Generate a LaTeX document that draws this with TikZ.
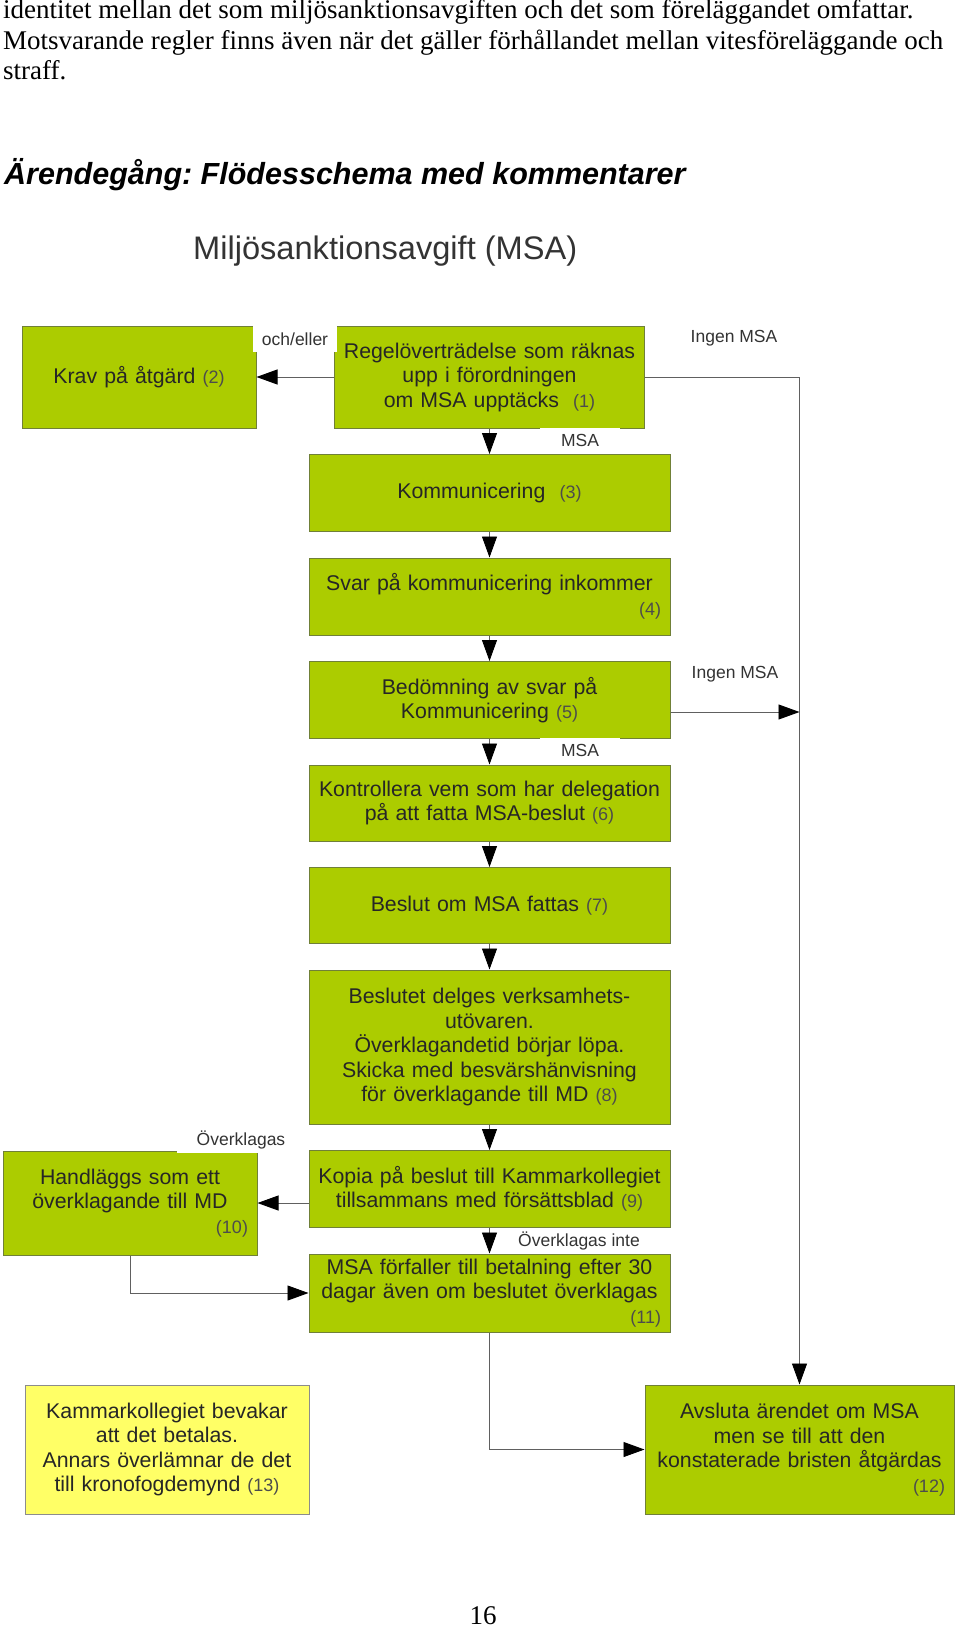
\documentclass[tikz,border=0pt]{standalone}
\usepackage{fontspec}
\setmainfont{Liberation Serif}
\setsansfont{Liberation Sans}
\usepackage{xcolor}
\usepackage{tikz}
\usetikzlibrary{arrows.meta}
\usetikzlibrary{positioning}
\frenchspacing

\definecolor{msagreen}{RGB}{172,204,0}
\definecolor{msayellow}{RGB}{255,255,102}
\definecolor{boxline}{RGB}{112,128,56}
\definecolor{linegray}{RGB}{96,96,96}
\newcommand{\stepno}[1]{{\fontsize{18}{20}\selectfont\color{black!70}(#1)}}
\newcommand{\stepnoright}[1]{\hfill\stepno{#1}\hspace*{7pt}}

\begin{document}
\begin{tikzpicture}[x=1pt, y=-1pt, node distance=25.5pt and 20pt]
\tikzstyle{stepbox} = [rectangle, draw=boxline, line width=1pt, fill=msagreen, text=black!85, font=\sffamily\fontsize{21.3}{24.5}\selectfont, align=center, inner xsep=2pt, inner ysep=0pt]
\tikzstyle{notebox} = [stepbox, fill=msayellow, draw=black!45]
\tikzstyle{lbl} = [fill=white, text=black!80, font=\sffamily\fontsize{17.5}{20}\selectfont, inner sep=0pt, minimum height=26pt]
\tikzstyle{arrow} = [draw=linegray, line width=0.9pt, -{Triangle[width=15pt,length=21pt,color=black]}]
\tikzstyle{bodytext} = [anchor=base west, inner sep=0pt, font=\fontsize{27}{30}\selectfont]

\useasboundingbox (0,0) rectangle (960,1629);

% Page text
\node (intro1) [bodytext] at (3,19) {identitet mellan det som miljösanktionsavgiften och det som föreläggandet omfattar.};
\node (intro2) [bodytext] at (3,49.5) {Motsvarande regler finns även när det gäller förhållandet mellan vitesföreläggande och};
\node (intro3) [bodytext] at (3,80) {straff.};
\node (heading) [anchor=base west, inner sep=0pt, font=\sffamily\bfseries\itshape\fontsize{30.5}{36}\selectfont] at (4,185) {Ärendegång: Flödesschema med kommentarer};
\node (title) [anchor=base west, inner sep=0pt, text=black!80, font=\sffamily\fontsize{32.6}{38}\selectfont] at (193,259) {Miljösanktionsavgift (MSA)};
\node (pageno) [bodytext, anchor=base] at (483,1624) {16};

% Nodes
\node (b1) [stepbox, text width=306pt, minimum height=102pt] at (489.5,377) {Regelöverträdelse som räknas\\upp i förordningen\\om MSA upptäcks~ \stepno{1}};
\node (b2) [stepbox, text width=230pt, minimum height=102pt] at (139,377) {Krav på åtgärd \stepno{2}};
\node (b3) [stepbox, text width=357pt, minimum height=77pt, below=of b1] {Kommunicering~ \stepno{3}};
\node (b4) [stepbox, text width=357pt, minimum height=77pt, below=of b3] {Svar på kommunicering inkommer\\ \stepnoright{4}};
\node (b5) [stepbox, text width=357pt, minimum height=77pt, below=of b4] {Bedömning av svar på\\Kommunicering \stepno{5}};
\node (b6) [stepbox, text width=357pt, minimum height=76pt, below=of b5] {Kontrollera vem som har delegation\\på att fatta MSA-beslut \stepno{6}};
\node (b7) [stepbox, text width=357pt, minimum height=76pt, below=of b6] {Beslut om MSA fattas \stepno{7}};
\node (b8) [stepbox, text width=357pt, minimum height=154pt, below=of b7] {Beslutet delges verksamhets-\\utövaren.\\Överklagandetid börjar löpa.\\Skicka med besvärshänvisning\\för överklagande till MD \stepno{8}};
\node (b9) [stepbox, text width=357pt, minimum height=77pt, below=of b8] {Kopia på beslut till Kammarkollegiet\\tillsammans med försättsblad \stepno{9}};
\node (b11) [stepbox, text width=357pt, minimum height=78pt, below=of b9] {MSA förfaller till betalning efter 30\\dagar även om beslutet överklagas\\ \stepnoright{11}};
\node (b10) [stepbox, text width=250pt, minimum height=104pt] at (130,1203) {Handläggs som ett\\överklagande till MD\\ \stepnoright{10}};
\node (b12) [stepbox, text width=305pt, minimum height=129pt] at (799.5,1449.5) {Avsluta ärendet om MSA\\men se till att den\\konstaterade bristen åtgärdas\\ \stepnoright{12}};
\node (b13) [notebox, text width=280pt, minimum height=129pt] at (167,1449.5) {Kammarkollegiet bevakar\\att det betalas.\\Annars överlämnar de det\\till kronofogdemynd \stepno{13}};
\coordinate (ingen) at (799.5,712);

% Arrows
\draw [arrow] (b1.west) -- (b2.east);
\draw [arrow] (b1.south) -- (b3.north);
\draw [arrow] (b3.south) -- (b4.north);
\draw [arrow] (b4.south) -- (b5.north);
\draw [arrow] (b5.south) -- (b6.north);
\draw [arrow] (b6.south) -- (b7.north);
\draw [arrow] (b7.south) -- (b8.north);
\draw [arrow] (b8.south) -- (b9.north);
\draw [arrow] (b9.south) -- (b11.north);
\draw [arrow] (b9.west |- b10.east) -- (b10.east);
\draw [arrow] (b10.south) |- (b11.west);
\draw [arrow] (b1.east) -| (b12.north);
\draw [arrow] (b5.east |- ingen) -- (ingen);
\draw [arrow] (b11.south) |- (b12.west);

% Labels
\node (lblor) [lbl, minimum width=84pt] at (295,339) {och/eller};
\node (lblno1) [lbl] at (734,338) {Ingen MSA};
\node (lblyes1) [lbl, minimum width=80pt, minimum height=26pt] at (580,440.5) {MSA};
\node (lblno2) [lbl] at (735,674) {Ingen MSA};
\node (lblyes2) [lbl, minimum width=80pt, minimum height=26pt] at (580,750.5) {MSA};
\node (lblappeal) [lbl, minimum width=128pt] at (241,1140) {Överklagas};
\node (lblnoappeal) [lbl, minimum width=128pt, minimum height=26pt] at (579,1241) {Överklagas inte};

\end{tikzpicture}
\end{document}
